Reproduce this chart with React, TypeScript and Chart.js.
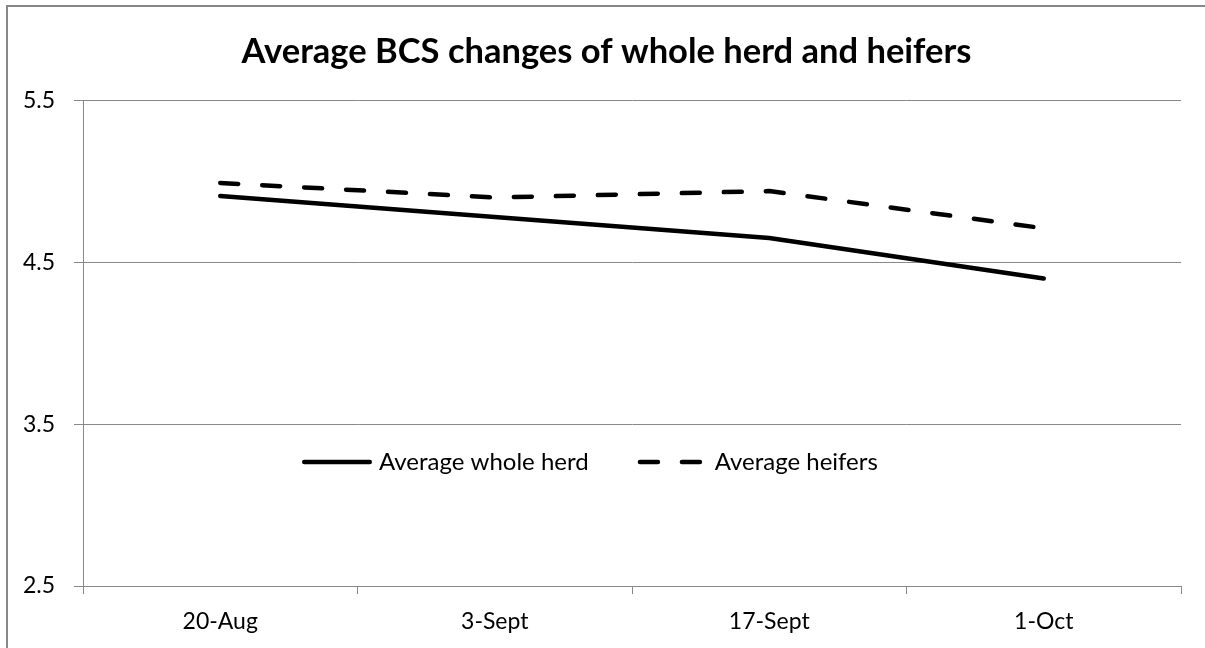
import React, { useEffect, useRef } from 'react';
import { Chart, registerables } from 'chart.js';

Chart.register(...registerables);

const categories = ['20-Aug', '3-Sept', '17-Sept', '1-Oct'];
const wholeHerd = [4.91, 4.78, 4.65, 4.4];
const heifers = [4.99, 4.9, 4.94, 4.71];
const yTicks = [2.5, 3.5, 4.5, 5.5];
const seriesNames = ['Average whole herd', 'Average heifers'];
const titleText = 'Average BCS changes of whole herd and heifers';

const FONT = 'Lato, "Liberation Sans", sans-serif';
const GRID = '#888888';

const insideLegend = {
  id: 'insideLegend',
  afterDatasetsDraw(chart: any, _args: any, opts: any) {
    const ctx = chart.ctx as CanvasRenderingContext2D;
    ctx.save();
    ctx.font = `${opts.fontSize}px ${FONT}`;
    ctx.textBaseline = 'middle';
    ctx.textAlign = 'left';
    let x = opts.x;
    const y = opts.y;
    chart.data.datasets.forEach((ds: any) => {
      const cap = ds.borderWidth / 2;
      ctx.beginPath();
      ctx.lineWidth = ds.borderWidth;
      ctx.strokeStyle = ds.borderColor;
      ctx.lineCap = 'round';
      ctx.setLineDash(ds.borderDash || []);
      ctx.moveTo(x + cap, y);
      ctx.lineTo(x + opts.sampleWidth - cap, y);
      ctx.stroke();
      ctx.setLineDash([]);
      const tx = x + opts.sampleWidth + opts.textGap;
      ctx.fillStyle = '#000';
      ctx.fillText(ds.label, tx, opts.textY);
      x = tx + ctx.measureText(ds.label).width + opts.itemGap;
    });
    ctx.restore();
  },
};

export default function App() {
  const ref = useRef<HTMLCanvasElement>(null);
  useEffect(() => {
    const chart = new Chart(ref.current!, {
      type: 'line',
      data: {
        labels: categories,
        datasets: [
          {
            label: seriesNames[0],
            data: wholeHerd,
            borderColor: '#000',
            borderWidth: 4.5,
            borderCapStyle: 'round',
            borderJoinStyle: 'round',
            pointRadius: 0,
            tension: 0,
            fill: false,
          },
          {
            label: seriesNames[1],
            data: heifers,
            borderColor: '#000',
            borderWidth: 4.5,
            borderDash: [18, 24],
            borderCapStyle: 'round',
            borderJoinStyle: 'round',
            pointRadius: 0,
            tension: 0,
            fill: false,
          },
        ],
      } as any,
      options: {
        responsive: false,
        maintainAspectRatio: false,
        animation: false,
        layout: { padding: { left: 0, right: 0, top: 0, bottom: 0 } },
        plugins: {
          legend: { display: false },
          tooltip: { enabled: false },
          title: {
            display: true,
            text: titleText,
            color: '#000',
            font: { family: FONT, size: 34.5, weight: 'bold', lineHeight: 1.2 },
            padding: { top: 24, bottom: 28 },
          },
          insideLegend: {
            x: 294,
            y: 455,
            textY: 455,
            sampleWidth: 70,
            textGap: 7,
            itemGap: 49,
            fontSize: 24,
          },
        } as any,
        scales: {
          x: {
            offset: true,
            grid: {
              offset: true,
              drawOnChartArea: false,
              drawTicks: true,
              tickLength: 8,
              color: GRID,
              lineWidth: 1,
            },
            border: { display: true, color: GRID, width: 1 },
            ticks: {
              color: '#000',
              font: { family: FONT, size: 23 },
              padding: 14,
              maxRotation: 0,
              autoSkip: false,
            },
            afterFit: (s: any) => {
              s.height = 62;
            },
          },
          y: {
            min: yTicks[0],
            max: yTicks[yTicks.length - 1],
            afterBuildTicks: (s: any) => {
              s.ticks = yTicks.map((v) => ({ value: v }));
            },
            ticks: {
              color: '#000',
              font: { family: FONT, size: 23 },
              padding: 19,
              callback: (v: any) => Number(v).toFixed(1),
            },
            grid: { color: GRID, lineWidth: 1, tickLength: 9 },
            border: { display: true, color: GRID, width: 1 },
            afterFit: (s: any) => {
              s.width = 75;
            },
          },
          rightSpace: {
            type: 'linear',
            position: 'right',
            display: true,
            min: yTicks[0],
            max: yTicks[yTicks.length - 1],
            grid: { display: false, drawOnChartArea: false },
            border: { display: false },
            ticks: { display: false },
            afterFit: (s: any) => {
              s.width = 24;
            },
          },
        },
      } as any,
      plugins: [insideLegend as any],
    });
    return () => chart.destroy();
  }, []);
  return (
    <div
      style={{
        position: 'absolute',
        left: 6,
        top: 5,
        width: 1197,
        height: 641,
        borderLeft: '2px solid #888',
        borderTop: '2px solid #888',
        background: '#fff',
      }}
    >
      <canvas ref={ref} width={1197} height={641} style={{ display: 'block', width: 1197, height: 641 }} />
    </div>
  );
}
